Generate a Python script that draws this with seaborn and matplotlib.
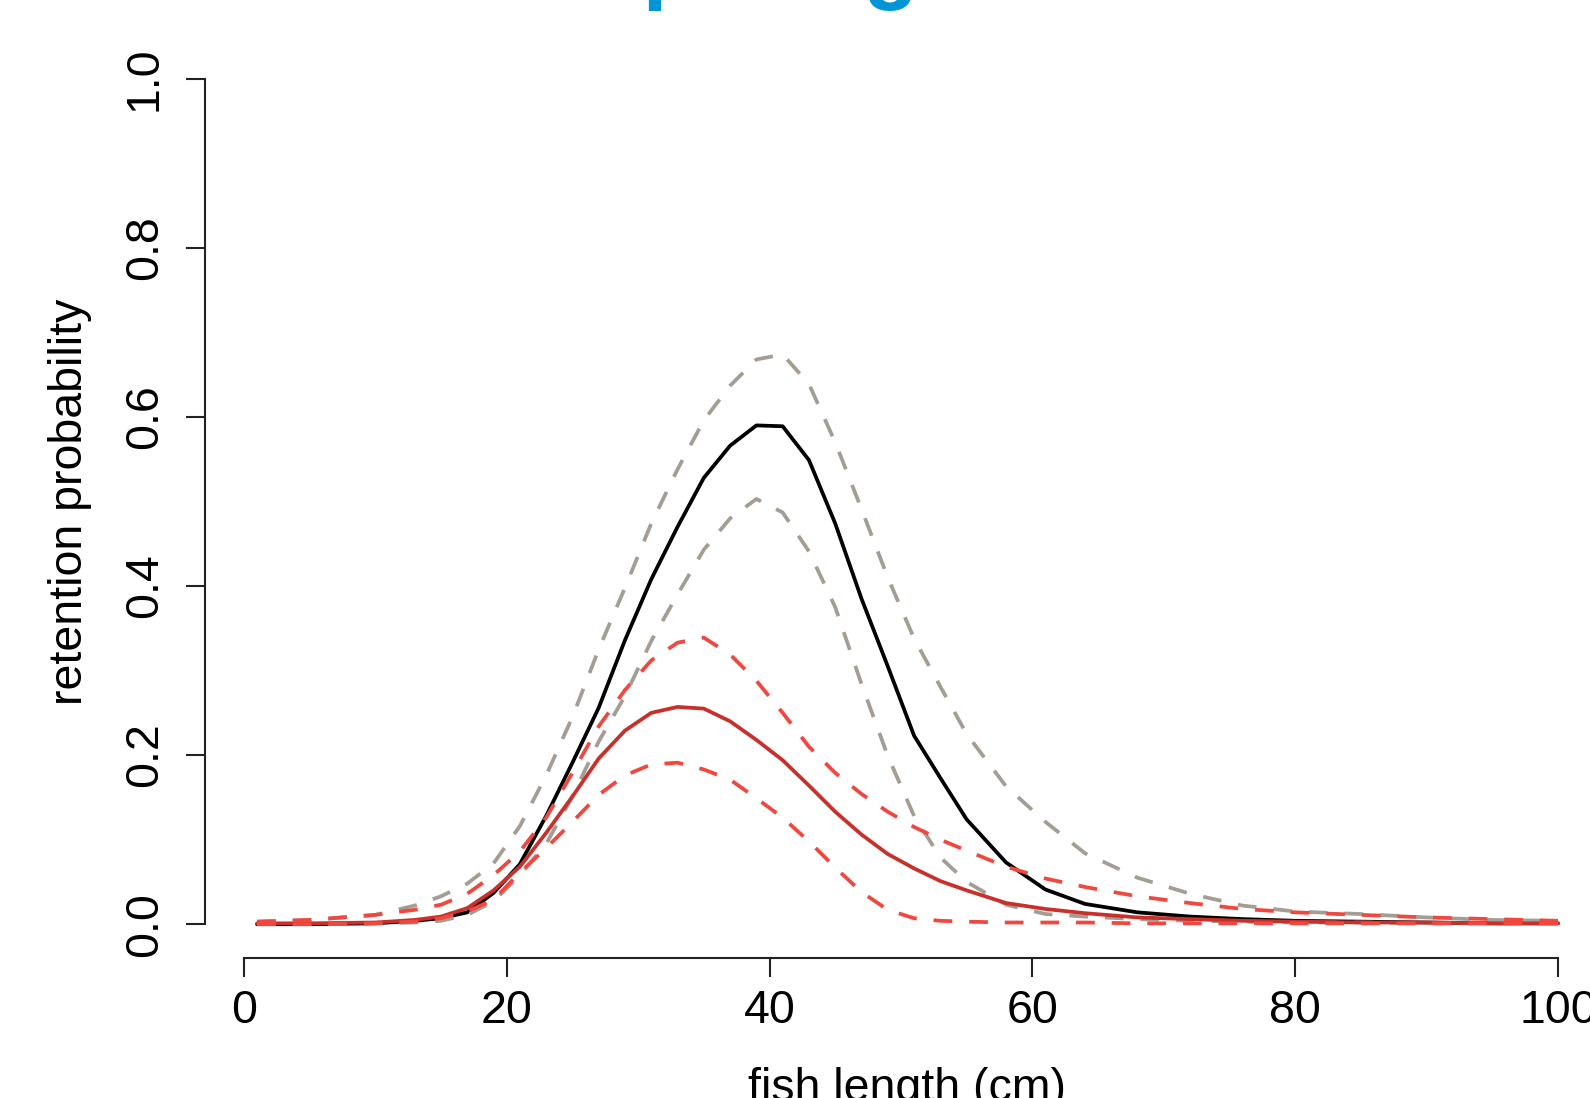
import matplotlib
matplotlib.use("Agg")
import matplotlib.pyplot as plt
import seaborn as sns
import pandas as pd

# fish length grid (cm) and retention probabilities
length = [1, 5, 10, 13, 15, 17, 19, 21, 23, 25, 27, 29, 31, 33, 35, 37, 39, 41, 43,
          45, 47, 49, 51, 53, 55, 58, 61, 64, 68, 72, 76, 80, 85, 90, 95, 100]

black_fit = [0.000, 0.000, 0.001, 0.004, 0.007, 0.014, 0.037, 0.071, 0.128, 0.191,
             0.256, 0.336, 0.408, 0.470, 0.528, 0.566, 0.590, 0.589, 0.549, 0.474,
             0.385, 0.305, 0.223, 0.173, 0.124, 0.073, 0.041, 0.024, 0.014, 0.009,
             0.006, 0.004, 0.003, 0.002, 0.001, 0.001]
black_upper = [0.003, 0.005, 0.011, 0.022, 0.033, 0.048, 0.072, 0.116, 0.176, 0.245,
               0.325, 0.398, 0.474, 0.538, 0.596, 0.637, 0.668, 0.674, 0.639, 0.570,
               0.491, 0.410, 0.338, 0.281, 0.225, 0.163, 0.121, 0.084, 0.055, 0.036,
               0.022, 0.015, 0.012, 0.008, 0.005, 0.004]
black_lower = [0.000, 0.000, 0.001, 0.002, 0.004, 0.011, 0.027, 0.058, 0.095, 0.151,
               0.216, 0.270, 0.335, 0.390, 0.443, 0.480, 0.503, 0.487, 0.441, 0.375,
               0.284, 0.199, 0.128, 0.079, 0.050, 0.023, 0.012, 0.009, 0.006, 0.004,
               0.003, 0.002, 0.002, 0.001, 0.001, 0.001]
red_fit = [0.001, 0.001, 0.002, 0.005, 0.009, 0.019, 0.040, 0.068, 0.108, 0.151,
           0.196, 0.229, 0.250, 0.257, 0.255, 0.240, 0.218, 0.194, 0.164, 0.133,
           0.106, 0.083, 0.066, 0.051, 0.040, 0.025, 0.018, 0.013, 0.008, 0.006,
           0.004, 0.003, 0.002, 0.002, 0.001, 0.001]
red_upper = [0.003, 0.005, 0.011, 0.017, 0.023, 0.036, 0.058, 0.086, 0.126, 0.179,
             0.234, 0.277, 0.312, 0.333, 0.339, 0.319, 0.288, 0.250, 0.210, 0.179,
             0.154, 0.133, 0.115, 0.100, 0.087, 0.068, 0.054, 0.044, 0.033, 0.025,
             0.018, 0.014, 0.011, 0.008, 0.006, 0.004]
red_lower = [0.000, 0.000, 0.001, 0.003, 0.007, 0.015, 0.029, 0.061, 0.090, 0.121,
             0.153, 0.176, 0.189, 0.191, 0.183, 0.171, 0.149, 0.126, 0.098, 0.067,
             0.038, 0.017, 0.007, 0.004, 0.003, 0.002, 0.002, 0.002, 0.001, 0.001,
             0.001, 0.001, 0.001, 0.001, 0.001, 0.001]

sns.set_style("ticks")
plt.rcParams["font.family"] = ["Liberation Sans", "DejaVu Sans"]
plt.rcParams["text.color"] = "black"
plt.rcParams["axes.labelcolor"] = "black"
plt.rcParams["xtick.color"] = "black"
plt.rcParams["ytick.color"] = "black"

df = pd.DataFrame({"length": length})

fig = plt.figure(figsize=(15.9, 10.98), dpi=100)
ax = fig.add_axes([205 / 1590, (1098 - 958) / 1098, 1405 / 1590, 913 / 1098])

GRAY = "#a39d94"
RED = "#c9302c"
RED_LIGHT = "#f0483f"
DASH = (5.0, 4.5)
LW = 2.7

sns.lineplot(data=df, x="length", y=black_fit, color="black", lw=LW, ax=ax)
sns.lineplot(data=df, x="length", y=black_upper, color=GRAY, lw=LW, ax=ax).lines[-1].set_dashes(DASH)
sns.lineplot(data=df, x="length", y=black_lower, color=GRAY, lw=LW, ax=ax).lines[-1].set_dashes(DASH)
sns.lineplot(data=df, x="length", y=red_fit, color=RED, lw=LW, ax=ax)
sns.lineplot(data=df, x="length", y=red_upper, color=RED_LIGHT, lw=LW, ax=ax).lines[-1].set_dashes(DASH)
sns.lineplot(data=df, x="length", y=red_lower, color=RED_LIGHT, lw=LW, ax=ax).lines[-1].set_dashes(DASH)

# R-like base graphics axes
ax.set_xlim(-2.96, 103.96)
ax.set_ylim(-0.04, 1.04)
ax.set_xticks([0, 20, 40, 60, 80, 100])
ax.set_yticks([0.0, 0.2, 0.4, 0.6, 0.8, 1.0])
ax.set_yticklabels(["0.0", "0.2", "0.4", "0.6", "0.8", "1.0"])
for s in ["top", "right"]:
    ax.spines[s].set_visible(False)
ax.spines["left"].set_bounds(0, 1)
ax.spines["bottom"].set_bounds(0, 100)
for s in ["left", "bottom"]:
    ax.spines[s].set_linewidth(1.5)
    ax.spines[s].set_color("#222222")

ax.tick_params(axis="both", length=13.5, width=1.5, color="#222222", labelsize=33.5,
               labelcolor="black")
ax.tick_params(axis="x", pad=9)
ax.tick_params(axis="y", pad=14, labelrotation=90)
for lab in ax.get_yticklabels():
    lab.set_va("center")

ax.set_xlabel("fish length (cm)", fontsize=33.5, labelpad=24)
ax.set_ylabel("retention probability", fontsize=33.5, labelpad=22)

# cropped slide title, only the descenders show
fig.text(442 / 1590, 1 + 8 / 1098, "Comparing", ha="left", va="baseline",
         fontsize=65, fontweight="bold", color="#0096d6")

fig.savefig("out.png", dpi=100)
